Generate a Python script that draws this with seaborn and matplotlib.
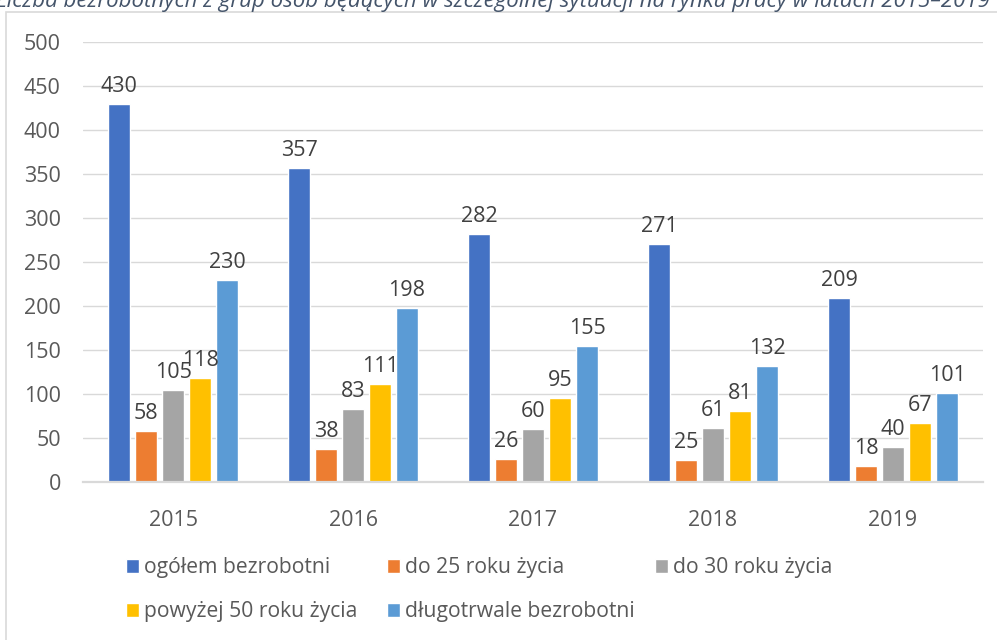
import matplotlib
matplotlib.use("Agg")
import matplotlib.pyplot as plt
import matplotlib.patches as mpatches
import seaborn as sns
import pandas as pd

# dane z wykresu
years = ["2015", "2016", "2017", "2018", "2019"]
groups = ["ogółem bezrobotni", "do 25 roku życia", "do 30 roku życia",
          "powyżej 50 roku życia", "długotrwale bezrobotni"]
ogolem = [430, 357, 282, 271, 209]
do_25 = [58, 38, 26, 25, 18]
do_30 = [105, 83, 60, 61, 40]
pow_50 = [118, 111, 95, 81, 67]
dlugotrwale = [230, 198, 155, 132, 101]
colors = ["#4472C4", "#ED7D31", "#A5A5A5", "#FFC000", "#5B9BD5"]

TITLE = "Liczba bezrobotnych z grup osób będących w szczególnej sytuacji na rynku pracy w latach 2015–2019"

rows = []
for g, vals in zip(groups, [ogolem, do_25, do_30, pow_50, dlugotrwale]):
    for y, v in zip(years, vals):
        rows.append({"rok": y, "grupa": g, "liczba": v})
df = pd.DataFrame(rows)

sns.set_theme(style="white")
plt.rcParams["font.family"] = ["Open Sans", "DejaVu Sans"]

TXT = "#595959"
GRID = "#d9d9d9"

fig = plt.figure(figsize=(9.97, 6.4), dpi=100)
ax = fig.add_axes([83 / 997, 1 - 482 / 640, 900 / 997, 440 / 640])

sns.barplot(data=df, x="rok", y="liczba", hue="grupa", hue_order=groups,
            palette=colors, width=0.75, gap=0.18, saturation=1,
            errorbar=None, ax=ax, legend=True)

ax.set_ylim(0, 500)
ax.set_xlim(-0.5, 4.5)
ax.set_yticks(range(0, 501, 50))
ax.set_xlabel("")
ax.set_ylabel("")
ax.tick_params(axis="y", length=0, pad=16, labelsize=15.5, labelcolor=TXT)
ax.tick_params(axis="x", length=0, pad=20, labelsize=15.5, labelcolor=TXT)
ax.grid(axis="y", color=GRID, linewidth=1.0)
ax.set_axisbelow(True)
for s in ["top", "right", "left"]:
    ax.spines[s].set_visible(False)
ax.spines["bottom"].set_color(GRID)
ax.spines["bottom"].set_linewidth(1.6)

# etykiety wartości
for cont in ax.containers:
    ax.bar_label(cont, padding=5, fontsize=15.5, color="#404040")

# legenda pod wykresem - jak w Excelu, stałe kolumny
handles, labels = ax.get_legend_handles_labels()
ax.get_legend().remove()
slots = [(126, 568), (387, 568), (655, 568), (126, 612), (387, 612)]
for (px, py), h, l in zip(slots, handles, labels):
    leg = fig.legend([h], [l], loc="center left",
                     bbox_to_anchor=(px / 997, 1 - py / 640), frameon=False,
                     fontsize=15.2, labelcolor=TXT, handlelength=0.6,
                     handleheight=0.6, handletextpad=0.25, borderpad=0,
                     borderaxespad=0)

# ramka obszaru wykresu
fig.patches.append(mpatches.Rectangle((6 / 997, -0.1), 1.1, 1 - 12 / 640 + 0.1,
                                      transform=fig.transFigure, fill=False,
                                      edgecolor=GRID, linewidth=1.2))

# tytuł (przycięty u góry)
fig.text(-0.004, 1 - 7 / 640, TITLE, fontsize=16, style="italic",
         color="#44546A", ha="left", va="baseline")

fig.savefig("out.png", dpi=100)
